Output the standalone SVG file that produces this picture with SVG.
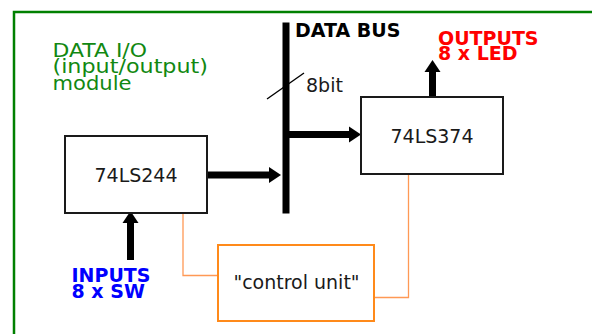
<svg xmlns="http://www.w3.org/2000/svg" width="592" height="334" viewBox="0 0 592 334">
<style>
  .box { fill: #ffffff; stroke: #1a1a1a; stroke-width: 2; }
  .ctrl { fill: #ffffff; stroke: #ff8a1a; stroke-width: 2; }
  .lbl { font-family: "DejaVu Sans", sans-serif; font-size: 19px; fill: #1a1a1a; }
  .bold { font-family: "DejaVu Sans", sans-serif; font-size: 19px; font-weight: bold; }
  .green { font-family: "DejaVu Sans", sans-serif; font-size: 19px; fill: #118811; }
  .thick { stroke: #000; stroke-width: 7; fill: none; }
  .thin { stroke: #ff9955; stroke-width: 1.3; fill: none; }
</style>
<defs>
  <marker id="ah" markerUnits="userSpaceOnUse" markerWidth="12" markerHeight="16" refX="0" refY="8" orient="auto" overflow="visible">
    <path d="M0,0 L12,8 L0,16 Z" fill="#000"/>
  </marker>
</defs>
<rect width="592" height="334" fill="#ffffff"/>
<g id="frame">
  <path d="M14,334 V12 H592" fill="none" stroke="#008000" stroke-width="2.5"/>
</g>
<g id="title">
  <text class="green" x="52.5" y="56.5" textLength="94.5" lengthAdjust="spacingAndGlyphs">DATA I/O</text>
  <text class="green" x="52.5" y="72.5" textLength="155.5" lengthAdjust="spacingAndGlyphs">(input/output)</text>
  <text class="green" x="52.5" y="89.5" textLength="79" lengthAdjust="spacingAndGlyphs">module</text>
</g>
<g id="bus">
  <line x1="286" y1="22.5" x2="286" y2="213.5" stroke="#000" stroke-width="7"/>
  <line x1="267" y1="99" x2="304" y2="73" stroke="#000" stroke-width="1.4"/>
  <text class="bold" x="295" y="37" fill="#000">DATA BUS</text>
  <text class="lbl" x="306" y="91.5">8bit</text>
</g>
<g id="connectors">
  <line class="thick" x1="207" y1="175" x2="269" y2="175" marker-end="url(#ah)"/>
  <line class="thick" x1="289" y1="134.5" x2="349" y2="134.5" marker-end="url(#ah)"/>
  <line class="thick" x1="130.5" y1="260" x2="130.5" y2="223" marker-end="url(#ah)"/>
  <line class="thick" x1="432.5" y1="97" x2="432.5" y2="72" marker-end="url(#ah)"/>
  <path class="thin" d="M183,214 V275.5 H218"/>
  <path class="thin" d="M408.5,174 V297.5 H374"/>
</g>
<g id="n74LS244">
  <rect class="box" x="65" y="136" width="142" height="77"/>
  <text class="lbl" x="136" y="182" text-anchor="middle">74LS244</text>
</g>
<g id="n74LS374">
  <rect class="box" x="361" y="97" width="142" height="77"/>
  <text class="lbl" x="432" y="142.5" text-anchor="middle">74LS374</text>
</g>
<g id="control">
  <rect class="ctrl" x="218" y="245" width="156" height="76"/>
  <text class="lbl" x="296.5" y="288.5" text-anchor="middle">"control unit"</text>
</g>
<g id="inputs">
  <text class="bold" x="71.5" y="282" fill="#0000ff">INPUTS</text>
  <text class="bold" x="71.5" y="297.5" fill="#0000ff">8 x SW</text>
</g>
<g id="outputs">
  <text class="bold" x="438" y="44.5" fill="#ff0000">OUTPUTS</text>
  <text class="bold" x="438" y="59.5" fill="#ff0000">8 x LED</text>
</g>
</svg>
